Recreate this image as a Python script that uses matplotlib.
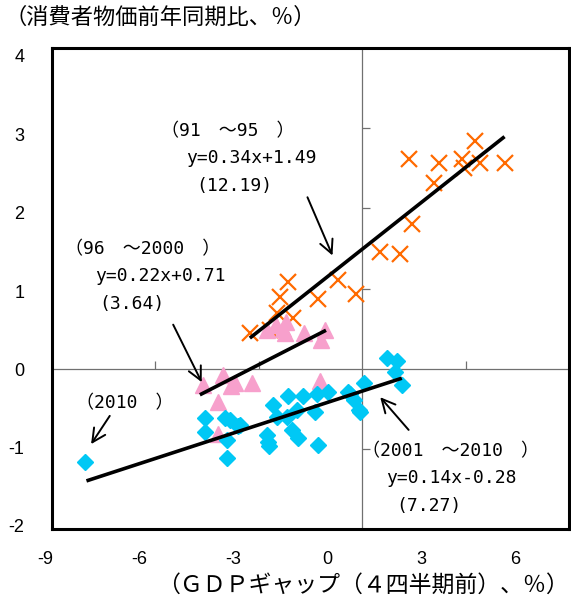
import numpy as np
import matplotlib
matplotlib.use("Agg")
import matplotlib.pyplot as plt

plt.rcParams['font.family'] = ['Noto Sans CJK JP', 'DejaVu Sans']

# 1991-95 (orange crosses)
x_9195 = [-3.26, -2.67, -2.48, -2.38, -2.14, -2.01, -1.27, -0.69, -0.17,
          0.52, 1.10, 1.44, 1.35, 2.09, 2.22, 2.90, 2.95, 3.26, 3.41, 4.13]
y_9195 = [0.45, 0.48, 0.69, 0.90, 1.08, 0.63, 0.87, 1.10, 0.93,
          1.45, 1.43, 1.80, 2.62, 2.32, 2.57, 2.62, 2.50, 2.84, 2.57, 2.57]

# 1996-2000 (pink triangles)
x_9600 = [-4.61, -4.03, -3.69, -3.80, -4.18, -4.18, -3.21, -1.22,
          -2.77, -2.29, -2.24, -1.69, -1.08, -1.20, -2.50, -2.20]
y_9600 = [-0.20, -0.08, -0.18, -0.22, -0.41, -0.81, -0.18, -0.16,
          0.48, 0.50, 0.44, 0.45, 0.48, 0.36, 0.55, 0.58]

# 2001-2010 (cyan diamonds)
x_0110 = [-2.58, -2.14, -1.71, -1.32, -0.98, -1.37, -1.90, -2.19, -2.48,
          -0.40, -0.25, 0.04, -0.06, -3.55, -2.77, -2.72, -2.70, -2.04,
          -1.85, -1.27, -3.84, 0.72, 1.01, 0.96, 1.15, -0.35, -0.08,
          -8.05, -4.56, -4.56, -3.98, -3.93, -3.93, -3.60]
y_0110 = [-0.45, -0.34, -0.34, -0.31, -0.29, -0.54, -0.52, -0.60, -0.60,
          -0.29, -0.39, -0.18, -0.54, -0.70, -0.83, -0.91, -0.96, -0.76,
          -0.87, -0.95, -0.64, 0.13, 0.09, -0.04, -0.20, -0.31, -0.52,
          -1.16, -0.62, -0.79, -0.62, -0.89, -1.12, -0.72]

# regression lines: slope, intercept, x range
fit_9195 = (0.34, 1.49, -3.26, 4.13)
fit_9600 = (0.22, 0.71, -4.71, -1.05)
fit_0110 = (0.14, -0.28, -8.0, 1.15)

xticks = [-9, -6, -3, 0, 3, 6]
yticks = [-2, -1, 0, 1, 2, 3, 4]

W, H = 571, 603
fig = plt.figure(figsize=(W / 100, H / 100), dpi=100)
ax = fig.add_axes([52 / W, 1 - 529 / H, 517 / W, 481 / H])
ax.set_xlim(-9, 6)
ax.set_ylim(-2, 4)

for s in ax.spines.values():
    s.set_linewidth(2.2)
    s.set_color('black')
ax.set_xticks([])
ax.set_yticks([])

# zero lines with tick marks
ax.axhline(0, color='#707070', lw=0.9, zorder=1)
ax.axvline(0, color='#707070', lw=0.9, zorder=1)
xt_in = [t for t in xticks if t not in (-9, 0, 6)]
yt_in = [t for t in yticks if t not in (-2, 0, 4)]
ax.plot(xt_in, np.zeros(len(xt_in)), ls='none', marker=2, ms=6, mew=0.9, color='#707070')
ax.plot(np.zeros(len(yt_in)), yt_in, ls='none', marker=1, ms=6, mew=0.9, color='#707070')

ax.plot(x_9195, y_9195, ls='none', marker='x', ms=11, mew=1.6, color='#FF6A00', zorder=3)
ax.plot(x_9600, y_9600, ls='none', marker='^', ms=12, color='#F7A0CC', zorder=3)
ax.plot(x_0110, y_0110, ls='none', marker='D', ms=8, color='#00C8F5', zorder=3)

for m, b, x0, x1 in (fit_9195, fit_9600, fit_0110):
    xs = np.array([x0, x1])
    ax.plot(xs, m * xs + b, color='black', lw=2.6, solid_capstyle='butt', zorder=4)

fam = ['DejaVu Sans Mono', 'Noto Sans CJK JP']
tk = dict(fontsize=13, ha='center', va='center', family=fam)
arrow = dict(arrowstyle='->', lw=1.4, color='black', mutation_scale=24)

ax.text(-3.90, 2.96, '（91　～95　）', **tk)
ax.text(-3.21, 2.63, 'y=0.34x+1.49', **tk)
ax.text(-3.72, 2.28, '(12.19)', **tk)
ax.annotate('', xy=(-0.83, 1.38), xytext=(-1.62, 2.17), arrowprops=arrow)

ax.text(-6.37, 1.49, '（96　～2000　）', **tk)
ax.text(-5.87, 1.16, 'y=0.22x+0.71', **tk)
ax.text(-6.69, 0.81, '(3.64)', **tk)
ax.annotate('', xy=(-4.62, -0.20), xytext=(-5.52, 0.58), arrowprops=arrow)

ax.text(-6.89, -0.43, '（2010　）', **tk)
ax.annotate('', xy=(-7.91, -0.97), xytext=(-7.28, -0.56), arrowprops=arrow)

ax.text(2.56, -1.03, '（2001　～2010　）', **tk)
ax.text(2.59, -1.36, 'y=0.14x-0.28', **tk)
ax.text(1.92, -1.71, '(7.27)', **tk)
ax.annotate('', xy=(0.47, -0.33), xytext=(1.40, -0.79), arrowprops=arrow)

# tick labels sit on a slightly narrower frame than the plot area (as in the source)
lab = fig.add_axes([45 / W, 1 - 526 / H, 470 / W, 470 / H])
lab.set_xlim(-9, 6)
lab.set_ylim(-2, 4)
lab.set_frame_on(False)
lab.patch.set_alpha(0)
lab.set_xticks(xticks, [str(t) for t in xticks])
lab.set_yticks(yticks, [str(t) for t in yticks])
lab.tick_params(length=0, labelsize=13, labelfontfamily='Liberation Sans')
lab.tick_params(axis='x', pad=18)
lab.tick_params(axis='y', pad=15)

fig.text(5 / W, 1 - 17 / H, '（消費者物価前年同期比、％）', fontsize=16, ha='left', va='center')
fig.text(569 / W, 1 - 585 / H, '（ＧＤＰギャップ（４四半期前）、％）', fontsize=16.5, ha='right', va='center')

fig.savefig('out.png', dpi=100)
